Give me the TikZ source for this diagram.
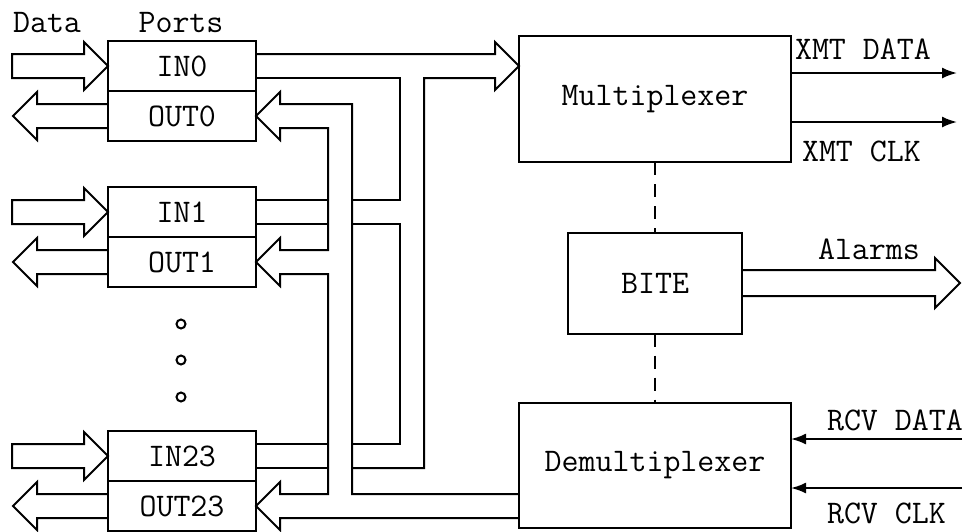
\documentclass[tikz,border=0pt]{standalone}
\usetikzlibrary{positioning,arrows.meta}

\begin{document}
\begin{tikzpicture}[x= 1pt, y= -1pt, line width= 2pt,
	font= {\ttfamily\fontsize{33}{37}\selectfont},
	portbox/.style= {draw, minimum width= 148pt, minimum height= 50pt, inner sep= 0pt, outer sep= 0pt},
	unitbox/.style= {draw, minimum width= 272pt, inner sep= 0pt, outer sep= 0pt},
	lbl/.style= {anchor= west, inner sep= 0pt},
	sig/.style= {-{Latex[length= 15pt, width= 11pt]}},
	bitelink/.style= {dash pattern= on 13pt off 9pt}]
	\useasboundingbox (0, 0) rectangle (970, 531);

	\node[inner sep= 0pt] (datalbl) at (47, 23) {Data};
	\node[inner sep= 0pt] (portslbl) at (181, 23) {Ports};

	\node[portbox] (in0) at (182, 66) {IN0};%ポート0
	\node[portbox, below= 0pt of in0] (out0) {OUT0};
	\node[portbox] (in1) at (182, 212) {IN1};%ポート1
	\node[portbox, below= 0pt of in1] (out1) {OUT1};
	\node[portbox] (in23) at (182, 456) {IN23};%ポート23
	\node[portbox, below= 0pt of in23] (out23) {OUT23};

	\foreach \y in {324, 360, 397}
		\draw (181, \y) circle [radius= 4.5];%省略記号

	\foreach \n in {0, 1, 23}{
		\draw (in\n.west)-- ++(-24, -24)-- ++(0, 12)-- ++(-72, 0)-- ++(0, 24)-- ++(72, 0)-- ++(0, 12)-- cycle;%入力矢印
		\draw (out\n.west) ++(0, -12)-- ++(-71, 0)-- ++(0, -12)-- ++(-24, 24)-- ++(24, 24)-- ++(0, -12)-- ++(71, 0);%出力矢印
	}

	\node[unitbox, minimum height= 126pt] (mux) at (655, 99) {Multiplexer};
	\node[unitbox, minimum width= 174pt, minimum height= 101pt] (bite) at (655, 283) {BITE};
	\node[unitbox, minimum height= 125pt] (demux) at (655, 465.5) {Demultiplexer};

	%入力バス
	\draw (in0.east) ++(0, -12)-- (495, 54)-- (495, 42)-- (mux.west |- in0.east)-- (495, 90)-- (495, 78)-- (424, 78)-- (424, 468)-- (352, 468);%IN0上辺- MUX- バス右辺
	\draw (in0.east) ++(0, 12)-- (400, 78)-- (400, 200)-- (352, 200);%IN0下辺- バス左辺
	\draw (352, 224)-- (400, 224)-- (400, 444)-- (352, 444);%IN1下辺- IN23上辺
	\draw (328, 200)-- (in1.east |- 0, 200);
	\draw (328, 224)-- (in1.east |- 0, 224);
	\draw (328, 444)-- (in23.east |- 0, 444);
	\draw (328, 468)-- (in23.east |- 0, 468);

	%出力バス
	\draw (demux.west |- 0, 494)-- (352, 494)-- (352, 104)-- (280, 104)-- (280, 92)-- (out0.east)-- (280, 140)-- (280, 128)
		-- (328, 128)-- (328, 250)-- (280, 250)-- (280, 238)-- (out1.east)-- (280, 286)-- (280, 274)
		-- (328, 274)-- (328, 494)-- (280, 494)-- (280, 482)-- (out23.east)-- (280, 530)-- (280, 518)-- (demux.west |- 0, 518);

	\draw[bitelink] (mux.south)-- (bite.north);%BITE接続
	\draw[bitelink] (bite.south)-- (demux.north);

	\coordinate (xmtdend) at (957, 73);
	\coordinate (xmtcend) at (957, 122);
	\draw[sig] (mux.east |- xmtdend)-- (xmtdend);%送信データ
	\draw[sig] (mux.east |- xmtcend)-- (xmtcend);%送信クロック
	\node[lbl] (xmtdlbl) at (794, 49) {XMT DATA};
	\node[lbl] (xmtclbl) at (801, 151) {XMT CLK};

	\coordinate (alarmtip) at (960, 283);
	\draw (bite.east) ++(0, -13)-- (935, 270)-- (935, 258)-- (alarmtip)-- (935, 308)-- (935, 296)-- (bite.east |- 0, 296);%警報
	\node[lbl] (alarmlbl) at (817, 249) {Alarms};

	\coordinate (rcvdstart) at (962, 439);
	\coordinate (rcvcstart) at (962, 488);
	\draw[sig] (rcvdstart)-- (demux.east |- rcvdstart);%受信データ
	\draw[sig] (rcvcstart)-- (demux.east |- rcvcstart);%受信クロック
	\node[lbl] (rcvdlbl) at (826, 420) {RCV DATA};
	\node[lbl] (rcvclbl) at (826, 513) {RCV CLK};
\end{tikzpicture}
\end{document}
